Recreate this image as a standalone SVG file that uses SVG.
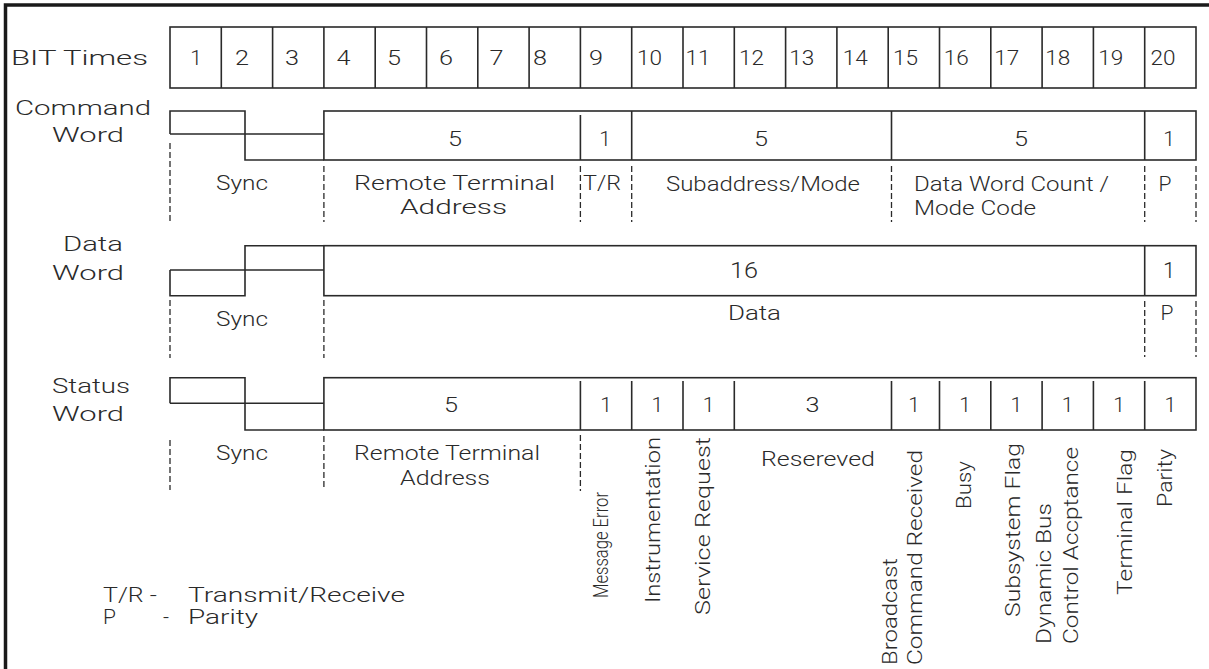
<svg xmlns="http://www.w3.org/2000/svg" width="1209" height="669" viewBox="0 0 1209 669">
<style>
text { font-family: Roboto, "Liberation Sans", Arial, sans-serif; font-weight: 300; font-size: 21px; fill: #2a2a2a; }
.c { text-anchor: middle; }
.d { font-size: 22px; text-anchor: middle; }
.ln { fill: none; stroke: #2a2a2a; stroke-width: 1.6; }
.dash { fill: none; stroke: #2a2a2a; stroke-width: 1.3; stroke-dasharray: 6 3; }
.frame { fill: none; stroke: #1a1a1a; stroke-width: 3.5; }
</style>
<rect width="1209" height="669" fill="#ffffff"/>
<path class="frame" d="M5.5,669 V5 H1209"/>

<g id="bit-times">
  <text x="11" y="65" textLength="137" lengthAdjust="spacingAndGlyphs">BIT Times</text>
  <rect class="ln" x="170" y="27" width="1026" height="61"/>
  <path class="ln" d="M221.3,27V88 M272.6,27V88 M323.9,27V88 M375.2,27V88 M426.5,27V88 M477.8,27V88 M529.1,27V88 M580.4,27V88 M631.7,27V88 M683,27V88 M734.3,27V88 M785.6,27V88 M836.9,27V88 M888.2,27V88 M939.5,27V88 M990.8,27V88 M1042.1,27V88 M1093.4,27V88 M1144.7,27V88"/>
  <g class="d">
    <text x="196" y="65">1</text>
    <text x="242" y="65" textLength="14" lengthAdjust="spacingAndGlyphs">2</text>
    <text x="292" y="65" textLength="14" lengthAdjust="spacingAndGlyphs">3</text>
    <text x="343.5" y="65" textLength="14" lengthAdjust="spacingAndGlyphs">4</text>
    <text x="394" y="65" textLength="14" lengthAdjust="spacingAndGlyphs">5</text>
    <text x="446" y="65" textLength="14" lengthAdjust="spacingAndGlyphs">6</text>
    <text x="496.5" y="65" textLength="14" lengthAdjust="spacingAndGlyphs">7</text>
    <text x="540" y="65" textLength="14" lengthAdjust="spacingAndGlyphs">8</text>
    <text x="596" y="65" textLength="14" lengthAdjust="spacingAndGlyphs">9</text>
    <text x="649.5" y="65" textLength="25" lengthAdjust="spacingAndGlyphs">10</text>
    <text x="698" y="65" textLength="25" lengthAdjust="spacingAndGlyphs">11</text>
    <text x="751.4" y="65" textLength="25" lengthAdjust="spacingAndGlyphs">12</text>
    <text x="801.8" y="65" textLength="25" lengthAdjust="spacingAndGlyphs">13</text>
    <text x="855.3" y="65" textLength="25" lengthAdjust="spacingAndGlyphs">14</text>
    <text x="905.5" y="65" textLength="25" lengthAdjust="spacingAndGlyphs">15</text>
    <text x="956.3" y="65" textLength="25" lengthAdjust="spacingAndGlyphs">16</text>
    <text x="1006.8" y="65" textLength="25" lengthAdjust="spacingAndGlyphs">17</text>
    <text x="1057.8" y="65" textLength="25" lengthAdjust="spacingAndGlyphs">18</text>
    <text x="1110.7" y="65" textLength="25" lengthAdjust="spacingAndGlyphs">19</text>
    <text x="1163" y="65" textLength="25" lengthAdjust="spacingAndGlyphs">20</text>
  </g>
</g>

<g id="command-word">
  <text x="15" y="115" textLength="136" lengthAdjust="spacingAndGlyphs">Command</text>
  <text x="52" y="142" textLength="72" lengthAdjust="spacingAndGlyphs">Word</text>
  <path class="ln" d="M170,134 V111 H245 V160 H323.9 M170,134 H323.9"/>
  <rect class="ln" x="323.9" y="111" width="872.1" height="49"/>
  <path class="ln" d="M580.4,115 V160 M631.7,111 V160 M891.5,111 V160 M1144.7,111 V160"/>
  <g class="d">
    <text x="455" y="146" textLength="14" lengthAdjust="spacingAndGlyphs">5</text>
    <text x="605" y="146">1</text>
    <text x="761" y="146" textLength="14" lengthAdjust="spacingAndGlyphs">5</text>
    <text x="1021" y="146" textLength="14" lengthAdjust="spacingAndGlyphs">5</text>
    <text x="1169" y="146">1</text>
  </g>
  <text x="216" y="190" textLength="52" lengthAdjust="spacingAndGlyphs">Sync</text>
  <text x="354" y="190" textLength="201" lengthAdjust="spacingAndGlyphs">Remote Terminal</text>
  <text x="400" y="214" textLength="107" lengthAdjust="spacingAndGlyphs">Address</text>
  <text x="583" y="190" textLength="38" lengthAdjust="spacingAndGlyphs">T/R</text>
  <text x="666" y="191" textLength="194" lengthAdjust="spacingAndGlyphs">Subaddress/Mode</text>
  <text x="914" y="191" textLength="195" lengthAdjust="spacingAndGlyphs">Data Word Count /</text>
  <text x="914" y="215" textLength="122" lengthAdjust="spacingAndGlyphs">Mode Code</text>
  <text class="c" x="1165" y="191">P</text>
</g>

<g id="data-word">
  <text x="63" y="251" textLength="60" lengthAdjust="spacingAndGlyphs">Data</text>
  <text x="52" y="280" textLength="72" lengthAdjust="spacingAndGlyphs">Word</text>
  <path class="ln" d="M170,270 H323.9 M170,270 V295.7 H245 V245.7 H323.9"/>
  <rect class="ln" x="323.9" y="245.7" width="872.1" height="50"/>
  <path class="ln" d="M1144.7,245.7 V295.7"/>
  <text class="d" x="744" y="278" textLength="28" lengthAdjust="spacingAndGlyphs">16</text>
  <text class="d" x="1169" y="278">1</text>
  <text x="216" y="326" textLength="52" lengthAdjust="spacingAndGlyphs">Sync</text>
  <text x="728" y="320" textLength="53" lengthAdjust="spacingAndGlyphs">Data</text>
  <text class="c" x="1167" y="320">P</text>
</g>

<g id="status-word">
  <text x="52" y="393" textLength="78" lengthAdjust="spacingAndGlyphs">Status</text>
  <text x="52" y="421" textLength="72" lengthAdjust="spacingAndGlyphs">Word</text>
  <path class="ln" d="M170,403.3 V377.7 H245 V430 H323.9 M170,403.3 H323.9"/>
  <rect class="ln" x="323.9" y="377.7" width="872.1" height="52.3"/>
  <path class="ln" d="M580.4,381 V430 M631.7,381 V430 M683,381 V430 M734.3,381 V430 M891.5,381 V430 M939.5,381 V430 M990.8,381 V430 M1042.1,381 V430 M1093.4,381 V430 M1144.7,381 V430"/>
  <g class="d">
    <text x="451" y="412" textLength="14" lengthAdjust="spacingAndGlyphs">5</text>
    <text x="606" y="412">1</text>
    <text x="657.3" y="412">1</text>
    <text x="708.6" y="412">1</text>
    <text x="812.5" y="412" textLength="14" lengthAdjust="spacingAndGlyphs">3</text>
    <text x="914" y="412">1</text>
    <text x="965" y="412">1</text>
    <text x="1016.4" y="412">1</text>
    <text x="1067.7" y="412">1</text>
    <text x="1119" y="412">1</text>
    <text x="1170.3" y="412">1</text>
  </g>
  <text x="216" y="460" textLength="52" lengthAdjust="spacingAndGlyphs">Sync</text>
  <text x="354" y="460" textLength="186" lengthAdjust="spacingAndGlyphs">Remote Terminal</text>
  <text x="400" y="485" textLength="90" lengthAdjust="spacingAndGlyphs">Address</text>
  <text x="761" y="466" textLength="114" lengthAdjust="spacingAndGlyphs">Resereved</text>
  <text transform="translate(608,598) rotate(-90)" style="font-size:20px" textLength="106" lengthAdjust="spacingAndGlyphs">Message Error</text>
  <text transform="translate(660,603) rotate(-90)" textLength="166" lengthAdjust="spacingAndGlyphs">Instrumentation</text>
  <text transform="translate(710,615) rotate(-90)" textLength="178" lengthAdjust="spacingAndGlyphs">Service Request</text>
  <text transform="translate(897,665) rotate(-90)" textLength="107" lengthAdjust="spacingAndGlyphs">Broadcast</text>
  <text transform="translate(922,665) rotate(-90)" textLength="215" lengthAdjust="spacingAndGlyphs">Command Received</text>
  <text transform="translate(971,509) rotate(-90)" textLength="48" lengthAdjust="spacingAndGlyphs">Busy</text>
  <text transform="translate(1020,617) rotate(-90)" textLength="174" lengthAdjust="spacingAndGlyphs">Subsystem Flag</text>
  <text transform="translate(1051,644) rotate(-90)" textLength="141" lengthAdjust="spacingAndGlyphs">Dynamic Bus</text>
  <text transform="translate(1078,644) rotate(-90)" textLength="197" lengthAdjust="spacingAndGlyphs">Control Accptance</text>
  <text transform="translate(1132,595) rotate(-90)" textLength="146" lengthAdjust="spacingAndGlyphs">Terminal Flag</text>
  <text transform="translate(1172,507) rotate(-90)" textLength="58" lengthAdjust="spacingAndGlyphs">Parity</text>
</g>

<g id="guides">
  <path class="dash" d="M170,143 V222 M323.9,166 V222 M580.4,166 V222 M631.7,166 V222 M891.5,166 V222 M1144.7,166 V222 M1196,166 V222"/>
  <path class="dash" d="M170,300 V358 M323.9,300 V358 M1144.7,301 V357 M1196,301 V357"/>
  <path class="dash" d="M170,440 V490 M323.9,436 V490 M580.4,435 V491"/>
</g>

<g id="legend">
  <text x="103" y="602" textLength="54" lengthAdjust="spacingAndGlyphs">T/R -</text>
  <text x="188" y="602" textLength="217" lengthAdjust="spacingAndGlyphs">Transmit/Receive</text>
  <text x="103" y="624">P</text>
  <text x="163" y="624">-</text>
  <text x="188" y="624" textLength="70" lengthAdjust="spacingAndGlyphs">Parity</text>
</g>
</svg>
